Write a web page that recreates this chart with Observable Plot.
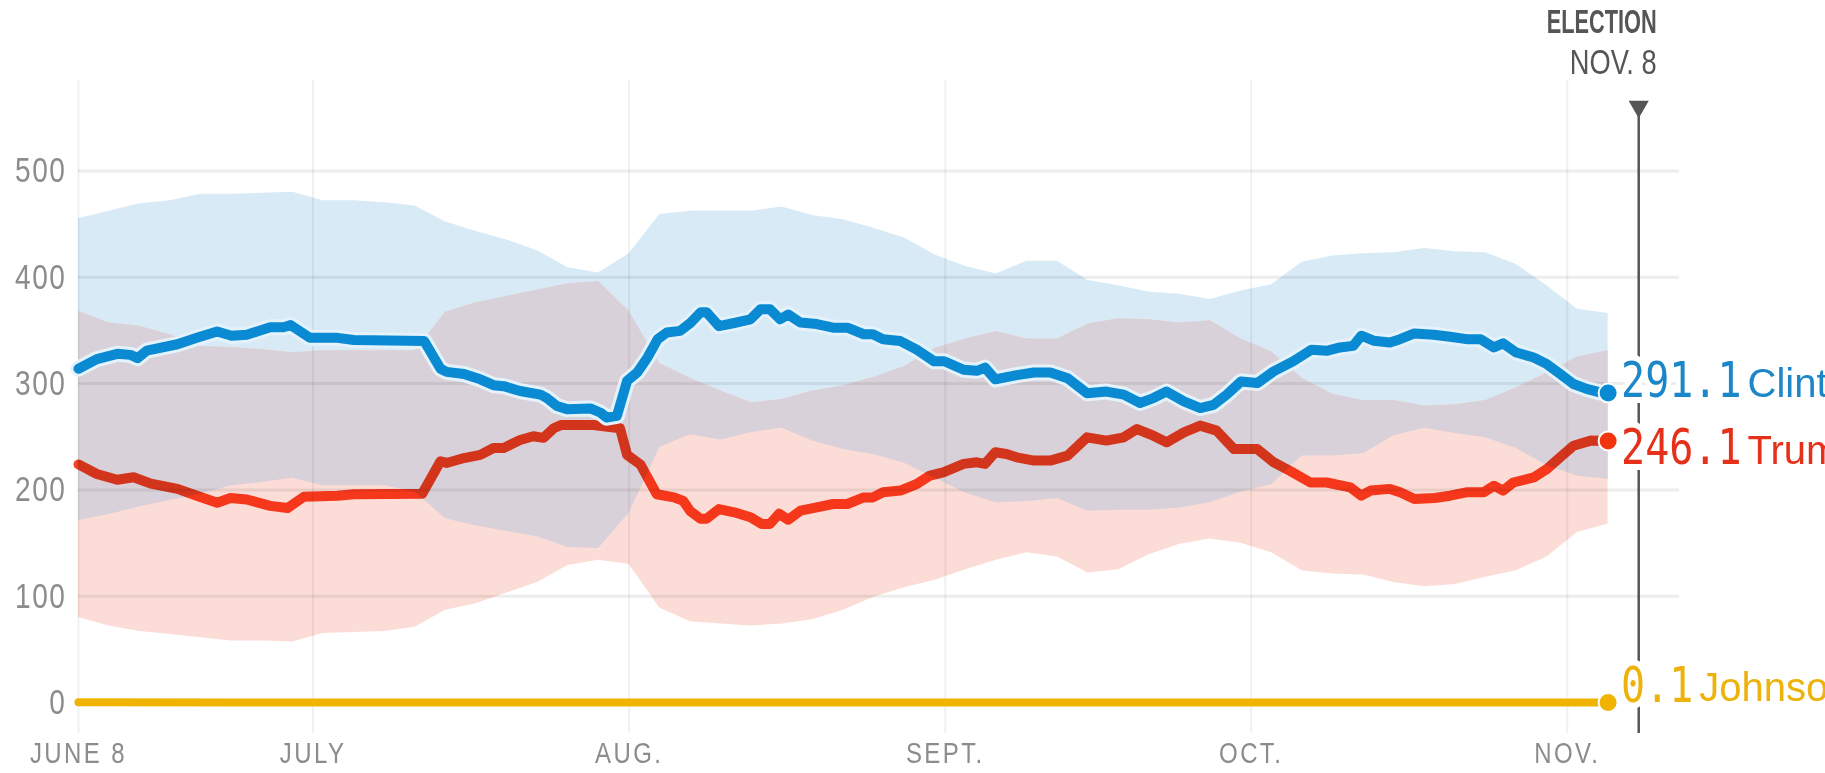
<!DOCTYPE html>
<html>
<head>
<meta charset="utf-8">
<script src="https://cdn.jsdelivr.net/npm/d3@7"></script>
<script src="https://cdn.jsdelivr.net/npm/@observablehq/plot@0.6"></script>
<style>
  html, body { margin: 0; padding: 0; background: #fff; overflow: hidden; }
  #chart svg { display: block; }
  g[aria-label="x-axis tick label"] text { letter-spacing: 3px; }
  g[aria-label="y-axis tick label"] text { letter-spacing: 2px; }
</style>
</head>
<body>
<div id="chart"></div>
<script>
// ---- data (days since June 8, 2016) ----
const bandDay = [0,3,6,9,12,15,18,21,24,27,30,33,36,39,42,45,48,51,54,57,60,63,66,69,72,75,78,81,84,87,90,93,96,99,102,105,108,111,114,117,120,123,126,129,132,135,138,141,144,147,150];
const clintonHigh = [455,462,469,472,478,478,479,480,472,472,470,467,452,443,435,425,409,404,422,459,462,462,462,466,458,454,446,437,421,410,403,415,415,397,392,386,384,379,387,393,414,420,422,423,427,424,423,412,392,370,366];
const clintonLow = [171,177,184,190,196,204,207,211,204,204,204,198,173,166,161,156,146,145,178,240,252,247,254,258,246,238,233,225,211,197,188,189,192,180,181,181,183,188,198,205,232,232,234,251,258,253,249,239,223,213,210];
const trumpHigh = [368,357,354,346,335,334,332,329,331,331,331,331,367,376,382,388,394,396,368,319,305,293,282,285,293,298,306,316,333,342,349,342,342,356,361,360,357,359,342,330,305,290,284,284,279,280,284,296,310,325,331];
const trumpLow = [80,72,67,64,61,58,58,57,65,66,67,71,87,93,103,113,129,134,130,89,76,74,72,74,78,87,99,108,115,125,134,141,137,122,125,139,149,154,150,141,124,121,120,113,109,111,118,124,137,160,168];

const clintonDay = [0,1.8,3.8,5.1,5.8,6.7,9.7,11.6,13.6,15,16.5,18.8,20.1,20.8,22.7,25.4,27,33.9,35.5,36.1,37.8,39.4,40.7,41.7,43.3,45.3,45.9,46.9,47.9,50.2,51.2,51.8,52.8,53.8,54.8,55.8,56.8,57.7,59,60,61,61.6,62.8,64.3,65.9,66.9,67.8,68.8,69.6,70.8,72.4,74,75.4,77,77.9,78.9,80.6,82.2,83.9,84.9,86.8,88.1,88.9,89.9,92,93.7,95.3,97,98.9,100.8,102.5,104.1,105.4,106.7,108.4,110,111.3,112.6,114,115.6,117.2,119.1,120.9,122.4,123.7,125,125.8,127,128.6,129.6,131,132.9,134.5,136.1,137.5,138.8,139.7,141,142.7,144,145.3,146.6,147.9,149.2,150];
const clintonValue = [314,323,328,327,324,331,337,343,349,345,346,353,353,355,343,343,341,340,314,311,309,304,298.5,297.6,293,289.6,286.6,279,276,276.6,272.6,268,269.7,302.6,310.5,324.6,341.8,348,349.6,357,367,367,354,357,360.5,370,370,360.5,365,357.4,356,352.6,352.6,346.4,346.4,341.7,340,332,321,321,313,312,315,304,308,310.5,310.5,305,291,292.5,289.6,281.8,286.4,292.5,283.3,277,280,289.6,302,300.5,311.5,320.9,331.8,330.8,334,335.5,345,340.3,338.7,341.8,347.2,346,344,341.8,341.8,334,337.8,329.2,324.6,318.3,309,299.6,295,291.7,291.1];

const trumpDay = [0,1.8,3.8,5.4,7.1,9.7,11.6,13.6,14.9,16.5,18.8,20.5,22.1,25.4,27,33.7,35.5,36.1,37.8,39.4,40.7,41.7,43.3,44.6,45.6,46.6,47.3,49.2,50.5,53.1,53.8,55.1,56.7,58.4,59.3,60,61,61.6,62.8,64.3,65.9,67,67.8,68.7,69.6,70.8,72.4,74,75.4,77,77.9,78.9,80.6,82.2,83.5,84.8,86.8,88.1,88.9,89.9,91,92,93.7,95.3,97,98.9,100.8,102.5,103.8,105.4,106.7,108.4,110,111.6,113.3,115.6,117.2,118.8,120.8,122.4,124.7,125.8,126.7,128.6,129.6,131,133,134.5,136.1,137.8,138.8,139.7,140.7,142.7,144,145.3,146.6,148.3,150];
const trumpValue = [224,215,209.6,212,206,201,194.5,188,192.4,191,185,183,193.6,194.5,196,196.5,227,225.4,230,233,239.5,239.5,247,250.5,249,258,261,261,261,258,233,224,196,193,189.7,180,173,173,182,179,174.4,168,168,177.6,172,180.5,183.7,186.8,186.8,193,193,197.8,199.4,205.6,213.5,216.6,224.5,226,224.5,235.4,233.8,230.7,227.6,227.6,232.3,249.5,246.4,249.5,257.3,251,244.8,254.2,260.5,255.8,238.5,238.5,226,218,207,207,202.5,194.6,199.4,201,197.8,191.5,192.4,194.6,197.8,197.8,204,199.4,207,211.8,219.6,230.7,241.6,246.4,246.1];

const johnsonDay = [0, 50, 100, 150];
const johnsonValue = [0.3, 0.2, 0.2, 0.1];

const candidateName = ["Clinton", "Trump", "Johnson"];
const finalLabel = ["291.1", "246.1", "0.1"];
const finalValue = [291.1, 246.1, 0.1];

const yTicks = [0, 100, 200, 300, 400, 500];
const xTickDay = [0, 23, 54, 85, 115, 146];
const xTickLabel = ["JUNE 8", "JULY", "AUG.", "SEPT.", "OCT.", "NOV."];
const electionDay = 153;
const domainDay = [0, 157];
const electionTitle = "ELECTION";
const electionDate = "NOV. 8";

// ---- helpers ----
const START = Date.UTC(2016, 5, 8);
const DAY = 864e5;
const toDate = d => new Date(START + d * DAY);

const bands = bandDay.map((d, i) => ({
  date: toDate(d), cLo: clintonLow[i], cHi: clintonHigh[i], tLo: trumpLow[i], tHi: trumpHigh[i]
}));
const clinton = clintonDay.map((d, i) => ({date: toDate(d), v: clintonValue[i]}));
const trump = trumpDay.map((d, i) => ({date: toDate(d), v: trumpValue[i]}));
const johnson = johnsonDay.map((d, i) => ({date: toDate(d), v: johnsonValue[i]}));

const lastDate = toDate(150);
const colors = ["#0a8ad2", "#f2350f", "#f0b400"];
const textColors = ["#1b86c8", "#e5301a", "#eeb20c"];
const labelDy = [-12, 7, -17];
const ends = candidateName.map((n, i) => ({name: n, label: finalLabel[i], v: finalValue[i], date: lastDate, i}));

const xLabelMap = new Map(xTickDay.map((d, i) => [+toDate(d), xTickLabel[i]]));
const xTicks = xTickDay.map(toDate);
const election = toDate(electionDay);

const sans = "'Liberation Sans', Arial, sans-serif";
const monoScale = 0.8;
const digitAdvance = 50 * 0.602 * monoScale;

const labelMarks = [];
ends.forEach((e, i) => {
  labelMarks.push(Plot.text([e], {
    x: "date", y: "v", text: "label", dx: 13, dy: labelDy[i], textAnchor: "start", lineAnchor: "middle",
    fontFamily: "'DejaVu Sans Mono', monospace", fontSize: 50, fill: textColors[i],
    stroke: "white", strokeWidth: 12, strokeLinejoin: "round", paintOrder: "stroke"
  }));
  labelMarks.push(Plot.text([e], {
    x: "date", y: "v", text: "name", dx: 13 + e.label.length * digitAdvance + 6, dy: labelDy[i] + 3,
    textAnchor: "start", lineAnchor: "middle", fontFamily: sans, fontSize: 40, fill: textColors[i],
    stroke: "white", strokeWidth: 10, strokeLinejoin: "round", paintOrder: "stroke"
  }));
});

const chart = Plot.plot({
  width: 1825,
  height: 773,
  marginLeft: 78,
  marginRight: 146,
  marginTop: 80,
  marginBottom: 40,
  style: {background: "white"},
  x: {type: "utc", domain: domainDay.map(toDate)},
  y: {domain: [-29, 585]},
  marks: [
    // uncertainty bands
    Plot.areaY(bands, {x: "date", y1: "cLo", y2: "cHi", fill: "#d7eaf6"}),
    Plot.areaY(bands, {x: "date", y1: "tLo", y2: "tHi", fill: "#fcdcd6"}),
    Plot.areaY(bands, {x: "date", y1: d => Math.max(d.cLo, d.tLo), y2: d => Math.min(d.cHi, d.tHi), fill: "#d9d1d9"}),
    // grid
    Plot.ruleY(yTicks.filter(t => t > 0), {stroke: "#000", strokeOpacity: 0.07, strokeWidth: 3}),
    Plot.ruleX(xTicks, {stroke: "#000", strokeOpacity: 0.06, strokeWidth: 2}),
    // axes
    Plot.axisY({ticks: yTicks, tickSize: 0, tickPadding: 12, label: null,
      fontSize: 36, fontFamily: sans, color: "#8c8c8c"}),
    Plot.axisX({ticks: xTicks, tickSize: 0, tickPadding: 8, label: null,
      tickFormat: d => xLabelMap.get(+d), fontSize: 30, fontFamily: sans, color: "#8c8c8c"}),
    // election marker
    Plot.ruleX([election], {stroke: "#555", strokeWidth: 2.5, insetTop: 36}),
    Plot.dot([election], {x: d => d, frameAnchor: "top", dy: 26, symbol: "triangle", rotate: 180, r: 7.5, fill: "#555"}),
    Plot.text([election], {x: d => d, frameAnchor: "top", dy: -58, dx: 18, textAnchor: "end", lineAnchor: "middle",
      text: () => electionTitle, fontFamily: sans, fontWeight: "bold", fontSize: 33, fill: "#555"}),
    Plot.text([election], {x: d => d, frameAnchor: "top", dy: -18, dx: 18, textAnchor: "end", lineAnchor: "middle",
      text: () => electionDate, fontFamily: sans, fontSize: 35, fill: "#555"}),
    // lines
    Plot.lineY(johnson, {x: "date", y: "v", stroke: colors[2], strokeWidth: 8}),
    Plot.lineY(trump, {x: "date", y: "v", stroke: "#f84020", strokeWidth: 10, mixBlendMode: "multiply"}),
    Plot.lineY(clinton, {x: "date", y: "v", stroke: "#e4f3fb", strokeWidth: 16}),
    Plot.lineY(clinton, {x: "date", y: "v", stroke: colors[0], strokeWidth: 10}),
    ...labelMarks,
    Plot.dot(ends, {x: "date", y: "v", r: 9.5, fill: d => colors[d.i], stroke: "white", strokeWidth: 2})
  ]
});

// condensed lettering: horizontal squeeze around each text's anchor point
function squeeze(t, s) {
  const tr = t.getAttribute("transform");
  if (tr) {
    t.setAttribute("transform", tr + ` scale(${s},1)`);
  } else {
    const x = +t.getAttribute("x") || 0, y = +t.getAttribute("y") || 0;
    t.removeAttribute("x"); t.removeAttribute("y");
    t.setAttribute("transform", `translate(${x},${y}) scale(${s},1)`);
  }
}
chart.querySelectorAll('g[aria-label="y-axis tick label"] text').forEach(t => squeeze(t, 0.78));
chart.querySelectorAll('g[aria-label="x-axis tick label"] text').forEach(t => squeeze(t, 0.8));
const textScale = new Map([[electionTitle, 0.66], [electionDate, 0.78], ...finalLabel.map(l => [l, monoScale])]);
chart.querySelectorAll('g[aria-label="text"] text').forEach(t => {
  const s = textScale.get(t.textContent);
  if (s) squeeze(t, s);
});

document.getElementById("chart").appendChild(chart);
</script>
</body>
</html>
